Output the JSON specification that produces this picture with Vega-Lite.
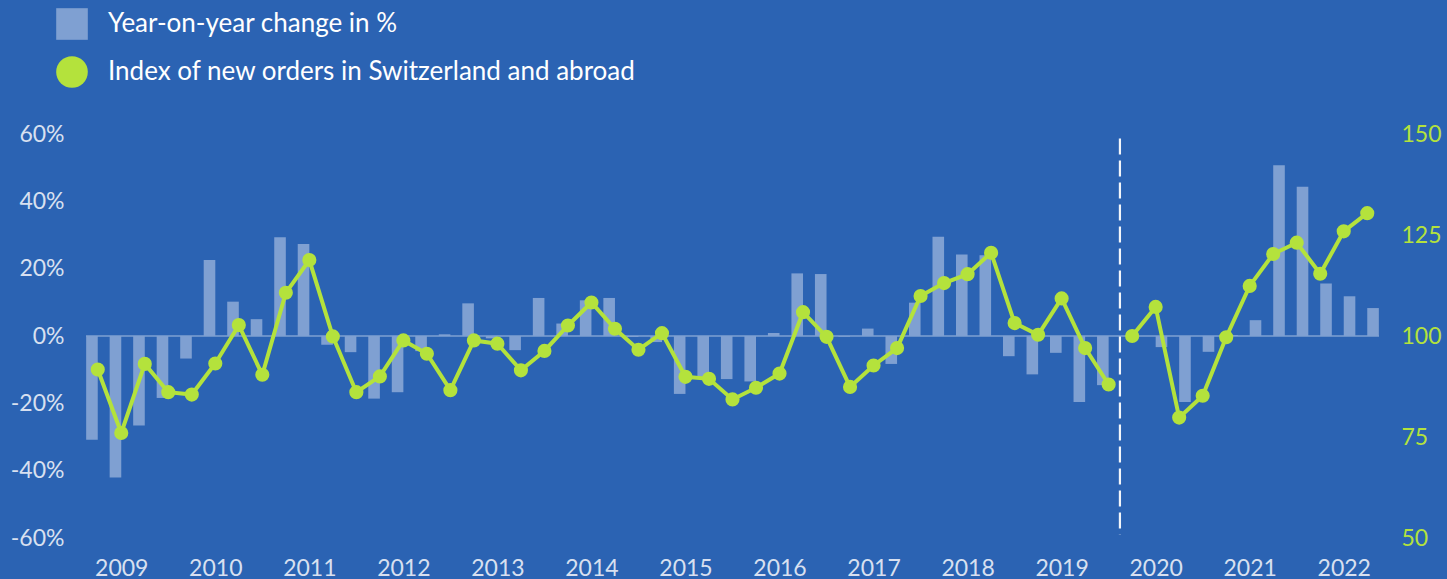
{
  "$schema": "https://vega.github.io/schema/vega-lite/v6.json",
  "width": 1293,
  "height": 404,
  "autosize": {"type": "none"},
  "padding": {"left": 86, "top": 134, "right": 68, "bottom": 41},
  "background": "#2B63B3",
  "config": {"view": {"stroke": null}, "font": "Lato"},
  "datasets": {
    "q": [
      {"t": 2009.00, "yoy": -30.8, "index": 91.7, "period": "pre"},
      {"t": 2009.25, "yoy": -42.0, "index": 76.0, "period": "pre"},
      {"t": 2009.50, "yoy": -26.6, "index": 93.1, "period": "pre"},
      {"t": 2009.75, "yoy": -18.4, "index": 86.1, "period": "pre"},
      {"t": 2010.00, "yoy": -6.7, "index": 85.5, "period": "pre"},
      {"t": 2010.25, "yoy": 22.6, "index": 93.2, "period": "pre"},
      {"t": 2010.50, "yoy": 10.2, "index": 102.7, "period": "pre"},
      {"t": 2010.75, "yoy": 5.0, "index": 90.4, "period": "pre"},
      {"t": 2011.00, "yoy": 29.3, "index": 110.7, "period": "pre"},
      {"t": 2011.25, "yoy": 27.3, "index": 118.8, "period": "pre"},
      {"t": 2011.50, "yoy": -2.6, "index": 99.9, "period": "pre"},
      {"t": 2011.75, "yoy": -4.8, "index": 86.1, "period": "pre"},
      {"t": 2012.00, "yoy": -18.6, "index": 90.0, "period": "pre"},
      {"t": 2012.25, "yoy": -16.7, "index": 98.9, "period": "pre"},
      {"t": 2012.50, "yoy": -4.5, "index": 95.6, "period": "pre"},
      {"t": 2012.75, "yoy": 0.5, "index": 86.6, "period": "pre"},
      {"t": 2013.00, "yoy": 9.7, "index": 98.9, "period": "pre"},
      {"t": 2013.25, "yoy": -0.7, "index": 98.1, "period": "pre"},
      {"t": 2013.50, "yoy": -4.2, "index": 91.5, "period": "pre"},
      {"t": 2013.75, "yoy": 11.3, "index": 96.3, "period": "pre"},
      {"t": 2014.00, "yoy": 3.7, "index": 102.6, "period": "pre"},
      {"t": 2014.25, "yoy": 10.6, "index": 108.3, "period": "pre"},
      {"t": 2014.50, "yoy": 11.3, "index": 101.8, "period": "pre"},
      {"t": 2014.75, "yoy": -0.3, "index": 96.6, "period": "pre"},
      {"t": 2015.00, "yoy": -1.8, "index": 100.7, "period": "pre"},
      {"t": 2015.25, "yoy": -17.2, "index": 89.9, "period": "pre"},
      {"t": 2015.50, "yoy": -12.2, "index": 89.4, "period": "pre"},
      {"t": 2015.75, "yoy": -12.8, "index": 84.3, "period": "pre"},
      {"t": 2016.00, "yoy": -13.5, "index": 87.2, "period": "pre"},
      {"t": 2016.25, "yoy": 0.9, "index": 90.7, "period": "pre"},
      {"t": 2016.50, "yoy": 18.6, "index": 105.9, "period": "pre"},
      {"t": 2016.75, "yoy": 18.4, "index": 99.8, "period": "pre"},
      {"t": 2017.00, "yoy": -0.2, "index": 87.4, "period": "pre"},
      {"t": 2017.25, "yoy": 2.2, "index": 92.7, "period": "pre"},
      {"t": 2017.50, "yoy": -8.3, "index": 97.0, "period": "pre"},
      {"t": 2017.75, "yoy": 9.9, "index": 109.9, "period": "pre"},
      {"t": 2018.00, "yoy": 29.5, "index": 113.1, "period": "pre"},
      {"t": 2018.25, "yoy": 24.2, "index": 115.3, "period": "pre"},
      {"t": 2018.50, "yoy": 24.0, "index": 120.6, "period": "pre"},
      {"t": 2018.75, "yoy": -6.0, "index": 103.2, "period": "pre"},
      {"t": 2019.00, "yoy": -11.4, "index": 100.3, "period": "pre"},
      {"t": 2019.25, "yoy": -5.0, "index": 109.3, "period": "pre"},
      {"t": 2019.50, "yoy": -19.6, "index": 97.0, "period": "pre"},
      {"t": 2019.75, "yoy": -14.6, "index": 88.0, "period": "pre"},
      {"t": 2020.00, "yoy": 0.0, "index": 100.0, "period": "post"},
      {"t": 2020.25, "yoy": -3.3, "index": 107.2, "period": "post"},
      {"t": 2020.50, "yoy": -19.6, "index": 79.8, "period": "post"},
      {"t": 2020.75, "yoy": -4.7, "index": 85.2, "period": "post"},
      {"t": 2021.00, "yoy": 0.3, "index": 99.7, "period": "post"},
      {"t": 2021.25, "yoy": 4.7, "index": 112.4, "period": "post"},
      {"t": 2021.50, "yoy": 50.7, "index": 120.3, "period": "post"},
      {"t": 2021.75, "yoy": 44.3, "index": 123.1, "period": "post"},
      {"t": 2022.00, "yoy": 15.6, "index": 115.4, "period": "post"},
      {"t": 2022.25, "yoy": 11.8, "index": 125.9, "period": "post"},
      {"t": 2022.50, "yoy": 8.3, "index": 130.4, "period": "post"}
    ]
  },
  "layer": [
    {
      "layer": [
        {
          "data": {"values": [{}]},
          "mark": {"type": "rule", "color": "#7FA0D2", "strokeWidth": 1.5},
          "encoding": {"y": {"datum": 0, "type": "quantitative"}}
        },
        {
          "data": {"name": "q"},
          "transform": [{"filter": "datum.period === 'pre'"}],
          "mark": {"type": "bar", "orient": "vertical", "width": 11.6, "xOffset": -5.8},
          "encoding": {
            "x": {"field": "t", "type": "quantitative", "scale": {"domain": [2008.875, 2022.625], "nice": false, "zero": false, "padding": 0},
              "axis": {"values": [2009.25, 2010.25, 2011.25, 2012.25, 2013.25, 2014.25, 2015.25, 2016.25, 2017.25, 2018.25, 2019.25, 2020.25, 2021.25, 2022.25],
                "labelExpr": "'' + floor(datum.value)", "domain": false, "ticks": false, "grid": false, "labelPadding": 19,
                "labelFontSize": 23, "labelFont": "Lato", "labelColor": "#D8E0F0", "title": null}},
            "y": {"field": "yoy", "type": "quantitative", "scale": {"domain": [-60, 60], "nice": false},
              "axis": {"orient": "left", "values": [-60, -40, -20, 0, 20, 40, 60], "labelExpr": "datum.value + '%'",
                "domain": false, "ticks": false, "grid": false, "labelPadding": 22, "labelFontSize": 23, "labelFont": "Lato",
                "labelColor": "#D8E0F0", "title": null}},
            "y2": {"datum": 0},
            "color": {"datum": "Year-on-year change in %", "type": "nominal",
              "scale": {"domain": ["Year-on-year change in %", "Index of new orders in Switzerland and abroad"], "range": ["#7FA0D2", "#B4E23C"]},
              "legend": {"orient": "none", "legendX": -30, "legendY": -126, "direction": "vertical", "padding": 0, "title": null,
                "labelFont": "Lato", "labelFontSize": 26, "labelColor": "#FFFFFF", "labelLimit": 0, "symbolSize": 1000, "rowPadding": 16, "labelOffset": 20,
                "symbolStrokeWidth": 0, "symbolOpacity": 1,
                "encode": {"symbols": {"update": {
                  "shape": {"signal": "datum.value === 'Year-on-year change in %' ? 'square' : 'circle'"},
                  "fill": {"scale": "color", "field": "value"},
                  "strokeWidth": {"value": 0},
                  "opacity": {"value": 1}
                }}}}}
          }
        },
        {
          "data": {"name": "q"},
          "transform": [{"filter": "datum.period === 'post'"}],
          "mark": {"type": "bar", "orient": "vertical", "width": 11.6, "xOffset": 5.8},
          "encoding": {
            "x": {"field": "t", "type": "quantitative"},
            "y": {"field": "yoy", "type": "quantitative"},
            "y2": {"datum": 0},
            "color": {"datum": "Year-on-year change in %", "type": "nominal"}
          }
        },
        {
          "data": {"values": [{}]},
          "mark": {"type": "rule", "color": "#F2F5FA", "strokeWidth": 2.2, "strokeDash": [16, 6]},
          "encoding": {
            "x": {"datum": 2019.87, "type": "quantitative"},
            "y": {"datum": 58.7, "type": "quantitative"},
            "y2": {"datum": -59}
          }
        }
      ]
    },
    {
      "data": {"name": "q"},
      "layer": [
        {
          "mark": {"type": "line", "strokeWidth": 4},
          "encoding": {
            "x": {"field": "t", "type": "quantitative"},
            "y": {"field": "index", "type": "quantitative", "scale": {"domain": [50, 150], "nice": false, "zero": false},
              "axis": {"orient": "right", "values": [50, 75, 100, 125, 150], "domain": false, "ticks": false, "grid": false,
                "labelPadding": 22, "labelFontSize": 23, "labelFont": "Lato", "labelColor": "#B4E23C", "title": null}},
            "detail": {"field": "period"},
            "color": {"datum": "Index of new orders in Switzerland and abroad", "type": "nominal"}
          }
        },
        {
          "mark": {"type": "point", "filled": true, "size": 200, "opacity": 1},
          "encoding": {
            "x": {"field": "t", "type": "quantitative"},
            "y": {"field": "index", "type": "quantitative"},
            "color": {"datum": "Index of new orders in Switzerland and abroad", "type": "nominal"}
          }
        }
      ]
    }
  ],
  "resolve": {"scale": {"y": "independent"}, "axis": {"y": "independent"}}
}
